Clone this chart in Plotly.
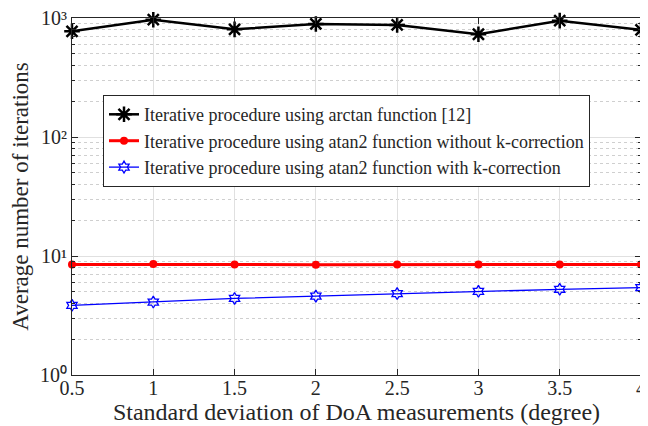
import plotly.graph_objects as go

sigma = [0.5, 1, 1.5, 2, 2.5, 3, 3.5, 4]
arctan_iter = [773, 968, 803, 891, 874, 730, 950, 794]
atan2_no_k = [8.5, 8.55, 8.5, 8.45, 8.5, 8.5, 8.5, 8.5]
atan2_k = [3.85, 4.1, 4.4, 4.6, 4.83, 5.05, 5.25, 5.42]

names = [
    "Iterative procedure using arctan function [12]",
    "Iterative procedure using atan2 function without k-correction",
    "Iterative procedure using atan2 function with k-correction",
]

y_tickvals = [1, 10, 100, 1000]
y_ticktext = ["10⁰", "10¹", "10²", "10³"]
x_tickvals = [0.5, 1, 1.5, 2, 2.5, 3, 3.5, 4]
x_ticktext = ["0.5", "1", "1.5", "2", "2.5", "3", "3.5", "4"]

minor_vals = [m * 10 ** d for d in range(3) for m in range(2, 10)]

FONT = "Liberation Serif"

fig = go.Figure()
fig.add_trace(go.Scatter(
    x=sigma, y=arctan_iter, name=names[0], mode="lines+markers",
    line=dict(color="black", width=2.5),
    marker=dict(symbol="asterisk-open", size=13, line=dict(color="black", width=2.5)),
    cliponaxis=False,
))
fig.add_trace(go.Scatter(
    x=sigma, y=atan2_no_k, name=names[1], mode="lines+markers",
    line=dict(color="#ff0000", width=3),
    marker=dict(symbol="circle", size=8, color="#ff0000"),
    cliponaxis=False,
))
fig.add_trace(go.Scatter(
    x=sigma, y=atan2_k, name=names[2], mode="lines+markers",
    line=dict(color="#0000ff", width=1.3),
    marker=dict(symbol="hexagram-open", size=9, line=dict(color="#0000ff", width=1.3)),
    cliponaxis=False,
))

axis_common = dict(
    showline=True, linecolor="#262626", linewidth=1, mirror="ticks",
    ticks="inside", ticklen=6, tickcolor="#262626",
    gridcolor="#e0e0e0", gridwidth=1, zeroline=False, automargin=False,
    ticklabeloverflow="allow",
    tickfont=dict(family=FONT, size=20, color="#262626"),
)

fig.update_xaxes(
    range=[0.5, 4], tickvals=x_tickvals, ticktext=x_ticktext,
    ticklabelstandoff=-5,
    title=dict(text="Standard deviation of DoA measurements (degree)",
               font=dict(family=FONT, size=24, color="#262626"), standoff=0),
    **axis_common,
)
fig.update_yaxes(
    type="log", range=[0, 3], tickvals=y_tickvals, ticktext=y_ticktext,
    title=dict(text="Average number of iterations",
               font=dict(family=FONT, size=23, color="#262626"), standoff=17),
    minor=dict(tickvals=minor_vals, showgrid=True, griddash="dot",
               gridcolor="#cfcfcf", gridwidth=1, ticks="inside", ticklen=3,
               tickcolor="#262626"),
    **axis_common,
)

fig.update_layout(
    width=640, height=418,
    margin=dict(l=64, r=7, t=10, b=51),
    plot_bgcolor="white", paper_bgcolor="white",
    font=dict(family=FONT, color="#262626"),
    legend=dict(
        x=0.0545, y=0.784, xanchor="left", yanchor="top",
        bgcolor="white", bordercolor="#262626", borderwidth=1,
        font=dict(family=FONT, size=18, color="#262626"),
        tracegroupgap=0, itemwidth=30,
    ),
)

fig.write_html("out.html")
